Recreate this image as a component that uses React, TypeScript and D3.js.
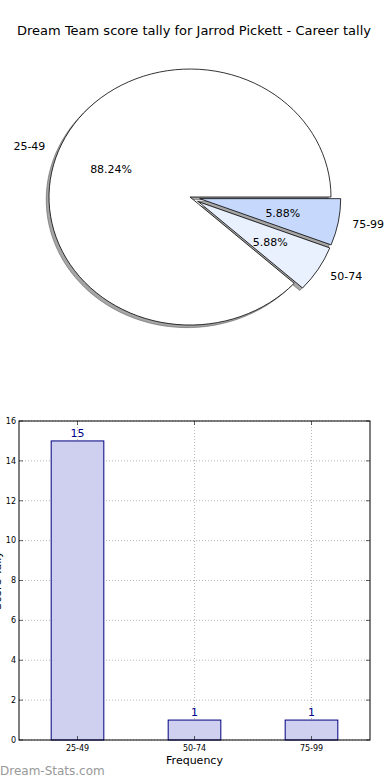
import * as d3 from 'd3';
import React from 'react';

const title = 'Dream Team score tally for Jarrod Pickett - Career tally';
const categories = ['25-49', '50-74', '75-99'];
const counts = [15, 1, 1];
const explode = [0, 0.07, 0.07];
const sliceColors = ['#ffffff', '#eaf1fe', '#c6d9fd'];
const yTicks = [0, 2, 4, 6, 8, 10, 12, 14, 16];

const FONT = 'DejaVu Sans, sans-serif';

const PieChart: React.FC = () => {
  const cx = 190;
  const cy = 197;
  const rx = 141;
  const ry = 128;
  const total = d3.sum(counts);

  // matplotlib style: counter-clockwise from 3 o'clock
  let acc = 0;
  const slices = counts.map((v, i) => {
    const t0 = (acc / total) * 2 * Math.PI;
    acc += v;
    const t1 = (acc / total) * 2 * Math.PI;
    const mid = (t0 + t1) / 2;
    const ox = explode[i] * rx * Math.cos(mid);
    const oy = -explode[i] * ry * Math.sin(mid);
    return { v, i, t0, t1, mid, ox, oy };
  });

  const arc = d3.arc<{ t0: number; t1: number }>()
    .innerRadius(0)
    .outerRadius(1)
    .startAngle((d) => Math.PI / 2 - d.t0)
    .endAngle((d) => Math.PI / 2 - d.t1);

  return (
    <g>
      {slices.map((s) => (
        <path
          key={`shadow-${s.i}`}
          d={arc(s) || ''}
          transform={`translate(${cx + s.ox - 2.8},${cy + s.oy + 2.6}) scale(${rx},${ry})`}
          fill="#4d4d4d"
          fillOpacity={0.5}
          stroke="#4d4d4d"
          strokeOpacity={0.5}
          strokeWidth={1}
          vectorEffect="non-scaling-stroke"
        />
      ))}
      {slices.map((s) => (
        <path
          key={`slice-${s.i}`}
          d={arc(s) || ''}
          transform={`translate(${cx + s.ox},${cy + s.oy}) scale(${rx},${ry})`}
          fill={sliceColors[s.i]}
          stroke="#000"
          strokeWidth={0.8}
          vectorEffect="non-scaling-stroke"
        />
      ))}
      {slices.map((s) => {
        const lx = cx + s.ox + 1.1 * rx * Math.cos(s.mid);
        const ly = cy + s.oy - 1.1 * ry * Math.sin(s.mid);
        const px = cx + s.ox + 0.6 * rx * Math.cos(s.mid);
        const py = cy + s.oy - 0.6 * ry * Math.sin(s.mid);
        return (
          <g key={`lab-${s.i}`} fontFamily={FONT} fontSize={11} fill="#000">
            <text x={lx} y={ly} dy="0.35em" textAnchor={Math.cos(s.mid) < 0 ? 'end' : 'start'}>
              {categories[s.i]}
            </text>
            <text x={px} y={py} dy="0.35em" textAnchor="middle">
              {`${((s.v / total) * 100).toFixed(2)}%`}
            </text>
          </g>
        );
      })}
    </g>
  );
};

const BarChart: React.FC = () => {
  const left = 19;
  const right = 370;
  const top = 421;
  const bottom = 740;
  const x = d3.scaleLinear().domain([-0.5, categories.length - 0.5]).range([left, right]);
  const y = d3.scaleLinear().domain([0, 16]).range([bottom, top]);
  const barW = x(0.45) - x(0);

  return (
    <g fontFamily={FONT}>
      {yTicks.map((t) => (
        <line key={`gy-${t}`} x1={left} x2={right} y1={y(t)} y2={y(t)} stroke="#888" strokeWidth={0.6} strokeDasharray="1,2" />
      ))}
      {categories.map((c, i) => (
        <line key={`gx-${c}`} x1={x(i)} x2={x(i)} y1={top} y2={bottom} stroke="#888" strokeWidth={0.6} strokeDasharray="1,2" />
      ))}
      {counts.map((v, i) => (
        <g key={`bar-${i}`}>
          <rect
            x={x(i) - barW / 2}
            y={y(v)}
            width={barW}
            height={bottom - y(v)}
            fill="#ccccee"
            fillOpacity={0.95}
            stroke="#000080"
            strokeWidth={1}
          />
          <text x={x(i)} y={y(v) - 4} textAnchor="middle" fontSize={11} fill="#00008b">
            {v}
          </text>
        </g>
      ))}
      <rect x={left} y={top} width={right - left} height={bottom - top} fill="none" stroke="#000" strokeWidth={1} />
      {yTicks.map((t) => (
        <g key={`yt-${t}`}>
          <line x1={left} x2={left + 4} y1={y(t)} y2={y(t)} stroke="#000" strokeWidth={0.6} />
          <line x1={right} x2={right - 4} y1={y(t)} y2={y(t)} stroke="#000" strokeWidth={0.6} />
          <text x={left - 3} y={y(t)} dy="0.35em" textAnchor="end" fontSize={8} fill="#000">
            {t}
          </text>
        </g>
      ))}
      {categories.map((c, i) => (
        <g key={`xt-${c}`}>
          <line x1={x(i)} x2={x(i)} y1={bottom} y2={bottom - 4} stroke="#000" strokeWidth={0.6} />
          <line x1={x(i)} x2={x(i)} y1={top} y2={top + 4} stroke="#000" strokeWidth={0.6} />
          <text x={x(i)} y={bottom + 11} textAnchor="middle" fontSize={8} fill="#000">
            {c}
          </text>
        </g>
      ))}
      <text x={(left + right) / 2} y={764} textAnchor="middle" fontSize={11} fill="#000">
        Frequency
      </text>
      <text
        transform={`translate(1,${(top + bottom) / 2}) rotate(-90)`}
        textAnchor="middle"
        fontSize={11}
        fill="#000"
      >
        Score Tally
      </text>
    </g>
  );
};

const App: React.FC = () => (
  <svg
    width={390}
    height={780}
    style={{ position: 'absolute', left: 0, top: 0, background: '#fff' }}
  >
    <rect width={390} height={780} fill="#fff" />
    <text x={194} y={35} textAnchor="middle" fontFamily={FONT} fontSize={13} fill="#000">
      {title}
    </text>
    <PieChart />
    <BarChart />
    <text x={0} y={775} fontFamily={FONT} fontSize={12} fill="#999">
      Dream-Stats.com
    </text>
  </svg>
);

export default App;
